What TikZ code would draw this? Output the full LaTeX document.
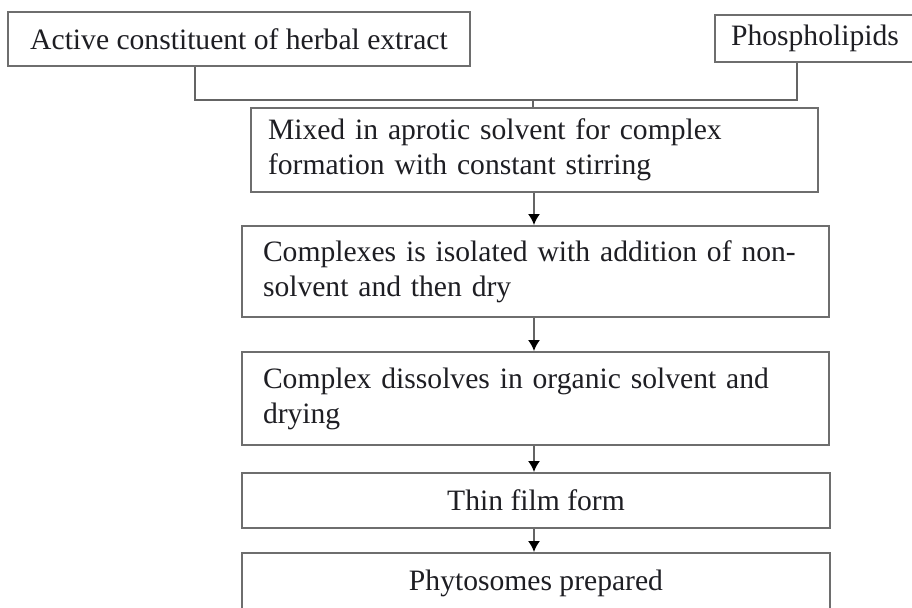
\documentclass[tikz,border=0pt]{standalone}
\usepackage{fontspec}
\setmainfont{Liberation Serif}
\usetikzlibrary{arrows.meta}

\definecolor{boxGray}{RGB}{110,110,110}
\definecolor{lineGray}{RGB}{100,100,100}
\definecolor{inkBlack}{RGB}{30,30,35}

\begin{document}
\begin{tikzpicture}[x=0.5pt, y=-0.5pt,
    box/.style={draw=boxGray, line width=1pt, rectangle, inner ysep=0pt,
      text=inkBlack, font=\fontsize{14.8}{17.5}\selectfont},
    leftBox/.style={box, align=left, anchor=center},
    link/.style={draw=lineGray, line width=0.8pt},
    flowArrow/.style={link, -{Latex[length=5.5pt, width=6pt, color=black]}}]
    % Page size of the reference
    \useasboundingbox (0,0) rectangle (912,607);

    % Two inputs at the top
    \node[box, minimum width=231pt, minimum height=27pt] (extract) at (239,39)
      {Active constituent of herbal extract};
    \node[box, minimum width=100pt, minimum height=23.5pt] (phospho) at (815,38.5)
      {Phospholipids};

    % Process steps
    \node[leftBox, inner xsep=8.5pt, text width=266.5pt, minimum height=42pt] (mixed) at (534.5,150)
      {Mixed in aprotic solvent for complex\\formation with constant stirring};
    \node[leftBox, inner xsep=10.5pt, text width=272.5pt, minimum height=45.5pt] (isolated) at (535.5,271.5)
      {Complexes is isolated with addition of non-\\solvent and then dry};
    \node[leftBox, inner xsep=10.5pt, text width=272.5pt, minimum height=46.5pt] (dissolved) at (535.5,398.5)
      {Complex dissolves in organic solvent and\\drying};
    \node[box, minimum width=294pt, minimum height=27.5pt] (film) at (536,500.5)
      {Thin film form};
    \node[box, minimum width=294pt, minimum height=30pt] (prepared) at (536,583)
      {Phytosomes prepared};

    % Joining line of the two inputs
    \coordinate (join) at (533,100);
    \draw[link] (extract.south -| 195,0) |- (join) -| (phospho.south -| 797,0);
    \draw[link] (join) -- (mixed.north -| join);

    % Arrows down the steps
    \foreach \from/\to in {mixed/isolated, isolated/dissolved, dissolved/film, film/prepared} {
      \draw[flowArrow] (\from.south -| 534,0) -- (\to.north -| 534,0);
    }
\end{tikzpicture}
\end{document}
